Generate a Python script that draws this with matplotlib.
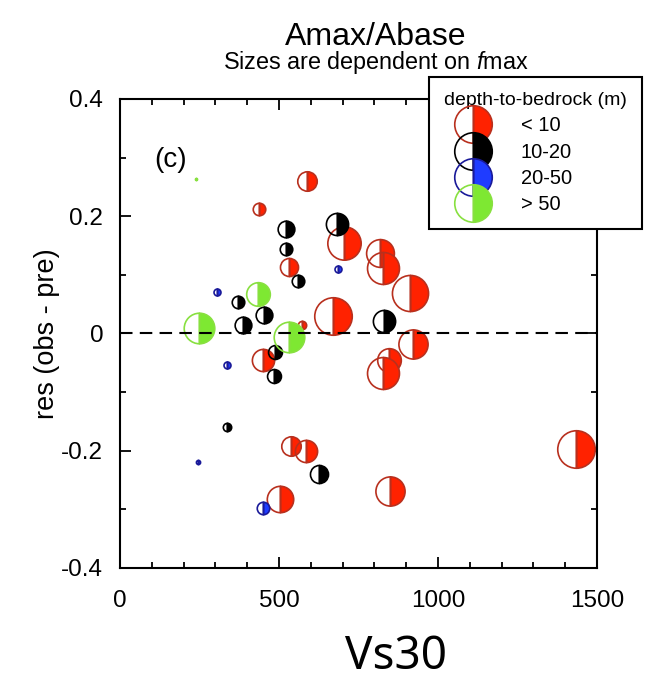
import matplotlib.pyplot as plt
from matplotlib.lines import Line2D

plt.rcParams['font.family'] = ['Liberation Sans', 'DejaVu Sans']
plt.rcParams['mathtext.fontset'] = 'custom'
plt.rcParams['mathtext.rm'] = 'Liberation Sans'
plt.rcParams['mathtext.it'] = 'Liberation Sans:italic'

# depth-to-bedrock classes (m)
CLASSES = ['< 10', '10-20', '20-50', '> 50']

# Vs30 (m/s), residual (obs - pre) and marker size from fmax, one set per class
vs_lt10 = [587, 438, 704, 532, 818, 828, 912, 671, 573, 449, 922, 847, 828, 537, 585, 503, 849, 1433]
res_lt10 = [0.260, 0.212, 0.155, 0.114, 0.137, 0.111, 0.069, 0.029, 0.0145, -0.045, -0.018, -0.045,
            -0.067, -0.192, -0.200, -0.282, -0.268, -0.197]
fmax_lt10 = [14, 9, 24, 13, 20, 23, 26, 27, 6, 16, 21, 17, 23, 14, 16, 19, 21, 27]

vs_10_20 = [521, 681, 521, 559, 370, 454, 388, 830, 487, 485, 338, 627]
res_10_20 = [0.179, 0.187, 0.144, 0.089, 0.053, 0.032, 0.0145, 0.022, -0.031, -0.072, -0.159, -0.240]
fmax_10_20 = [12, 16, 9, 9, 9, 12, 12, 16, 10, 10, 6, 13]

vs_20_50 = [687, 304, 335, 244, 449]
res_20_50 = [0.110, 0.070, -0.054, -0.220, -0.298]
fmax_20_50 = [5, 5, 5, 3, 9]

vs_gt50 = [239, 433, 248, 530]
res_gt50 = [0.264, 0.0675, 0.009, -0.0055]
fmax_gt50 = [1.5, 17, 22, 22]

X_TICKS = [0, 500, 1000, 1500]
Y_TICKS = [-0.4, -0.2, 0, 0.2, 0.4]
Y_TICK_LABELS = ['-0.4', '-0.2', '0', '0.2', '0.4']

FILL = ['#ff2200', '#000000', '#1f3cff', '#7ee832']
EDGE = ['#b8301e', '#000000', '#1a1a99', '#88e040']

groups = [
    (vs_lt10, res_lt10, fmax_lt10),
    (vs_10_20, res_10_20, fmax_10_20),
    (vs_20_50, res_20_50, fmax_20_50),
    (vs_gt50, res_gt50, fmax_gt50),
]

fig = plt.figure(figsize=(6.54, 6.84), dpi=100)
ax = fig.add_axes([0.1835, 0.1696, 0.7294, 0.6857])

# half-filled circles, right half coloured
for (vs, res, fm), fc, ec in zip(groups, FILL, EDGE):
    for x, y, s in zip(vs, res, fm):
        ax.plot(x, y, marker='o', linestyle='none', markersize=s, fillstyle='right',
                markerfacecolor=fc, markerfacecoloralt='none', markeredgecolor=ec,
                markeredgewidth=1.2, zorder=2)

ax.axhline(0, color='black', linestyle=(0, (6, 3.5)), linewidth=1.5, zorder=3)

ax.set_xlim(0, 1500)
ax.set_ylim(-0.4, 0.4)
ax.set_xticks(X_TICKS)
ax.set_xticks(range(0, 1501, 100), minor=True)
ax.set_yticks(Y_TICKS)
ax.set_yticklabels(Y_TICK_LABELS)
ax.set_yticks([-0.3, -0.1, 0.1, 0.3], minor=True)
ax.tick_params(which='both', direction='in', top=True, right=True, width=1.3, labelsize=17.5)
ax.tick_params(which='major', length=8)
ax.tick_params(which='minor', length=4.5)
ax.tick_params(axis='x', pad=16)
ax.tick_params(axis='y', pad=12)
for sp in ax.spines.values():
    sp.set_linewidth(1.5)

ax.set_ylabel('res (obs - pre)', fontsize=19.5, labelpad=1)
ax.text(0.105, 0.87, '(c)', transform=ax.transAxes, fontsize=20, ha='center', va='center')

fig.text(376 / 654, 1 - 45 / 684, 'Amax/Abase', fontsize=23, ha='center', va='baseline')
fig.text(376 / 654, 1 - 69 / 684, r'Sizes are dependent on $\mathit{f}$max', fontsize=16.8,
         ha='center', va='baseline')
fig.text(396 / 654, 1 - 669 / 684, 'Vs30', fontsize=33, ha='center', va='baseline',
         family='Noto Sans')

handles = [Line2D([], [], marker='o', linestyle='none', markersize=27, fillstyle='right',
                  markerfacecolor=fc, markerfacecoloralt='none', markeredgecolor=ec,
                  markeredgewidth=1.2) for fc, ec in zip(FILL, EDGE)]
leg = ax.legend(handles, CLASSES, title='depth-to-bedrock (m)', loc='upper left',
                bbox_to_anchor=(429 / 654, 1 - 77 / 684), bbox_transform=fig.transFigure,
                fontsize=14.5, title_fontsize=14, frameon=True, fancybox=False,
                edgecolor='black', framealpha=1, borderpad=0.75, handlelength=2.85,
                handletextpad=0.95, labelspacing=0.36, borderaxespad=0, numpoints=1,
                alignment='left')
leg.get_frame().set_linewidth(1.5)
leg.set_zorder(5)

fig.savefig('out.png', dpi=100)
